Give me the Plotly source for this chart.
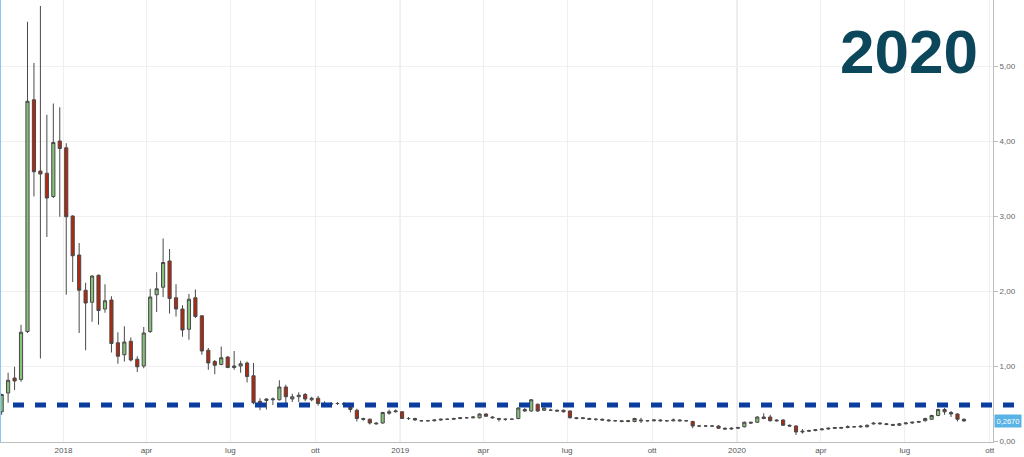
import pandas as pd
import plotly.graph_objects as go

# Weekly candles (first week ~ 2017-10-26)
first_week = "2017-10-26"
n_weeks = 150

opens = [0.39,0.64,0.84,0.82,1.46,4.55,3.60,3.57,3.26,4.00,3.91,3.00,2.48,2.01,1.85,2.21,1.76,1.88,1.31,1.15,
         1.33,1.09,1.00,1.46,1.95,2.05,2.40,1.91,1.76,1.49,1.91,1.67,1.21,1.06,1.02,1.12,0.98,1.00,1.04,0.87,
         0.53,0.54,0.55,0.55,0.72,0.56,0.59,0.62,0.55,0.57,0.50,0.49,0.50,0.50,0.46,0.41,0.30,0.29,0.24,0.24,
         0.37,0.39,0.39,0.30,0.30,0.27,0.27,0.27,0.28,0.29,0.29,0.30,0.31,0.31,0.31,0.36,0.32,0.30,0.29,0.29,
         0.30,0.42,0.40,0.49,0.41,0.41,0.41,0.41,0.40,0.31,0.31,0.30,0.29,0.29,0.28,0.27,0.27,0.26,0.26,0.28,
         0.27,0.27,0.28,0.27,0.27,0.28,0.27,0.26,0.20,0.20,0.20,0.20,0.17,0.16,0.17,0.19,0.25,0.25,0.32,0.32,
         0.28,0.28,0.21,0.20,0.12,0.13,0.14,0.15,0.16,0.18,0.17,0.18,0.19,0.20,0.19,0.24,0.24,0.23,0.22,0.21,
         0.23,0.24,0.25,0.27,0.29,0.34,0.42,0.38,0.36,0.29]
highs = [0.63,0.91,0.99,1.55,5.59,5.04,5.80,4.35,4.50,4.45,3.97,3.01,2.64,2.11,2.21,2.22,2.09,1.93,1.45,1.53,
         1.38,1.13,1.52,2.03,2.25,2.70,2.56,2.09,1.81,1.96,2.02,1.67,1.24,1.08,1.26,1.13,1.20,1.07,1.06,1.04,
         0.57,0.57,0.58,0.81,0.75,0.63,0.65,0.64,0.59,0.60,0.53,0.52,0.52,0.52,0.49,0.43,0.31,0.30,0.25,0.39,
         0.42,0.42,0.40,0.32,0.31,0.28,0.28,0.29,0.30,0.30,0.31,0.32,0.32,0.33,0.37,0.37,0.33,0.31,0.30,0.30,
         0.45,0.44,0.56,0.50,0.45,0.43,0.42,0.42,0.41,0.32,0.32,0.31,0.30,0.30,0.29,0.28,0.28,0.28,0.31,0.31,
         0.28,0.29,0.29,0.28,0.30,0.29,0.28,0.27,0.21,0.21,0.21,0.21,0.18,0.18,0.19,0.26,0.26,0.33,0.37,0.35,
         0.29,0.29,0.22,0.21,0.16,0.15,0.16,0.17,0.18,0.18,0.19,0.21,0.20,0.21,0.22,0.25,0.25,0.24,0.23,0.24,
         0.25,0.26,0.27,0.31,0.35,0.43,0.44,0.40,0.37,0.30]
lows = [0.35,0.51,0.68,0.79,1.44,3.26,1.10,2.72,3.24,2.99,1.95,2.12,1.44,1.21,1.59,1.55,1.71,1.18,1.03,1.06,
        1.06,0.92,0.97,1.44,1.72,1.92,1.70,1.66,1.39,1.35,1.64,1.15,0.95,0.89,1.01,0.97,0.95,0.91,0.78,0.49,
        0.41,0.42,0.48,0.54,0.50,0.52,0.52,0.53,0.53,0.47,0.45,0.47,0.48,0.47,0.38,0.26,0.27,0.22,0.22,0.23,
        0.35,0.38,0.30,0.28,0.27,0.26,0.26,0.26,0.27,0.28,0.28,0.29,0.30,0.30,0.30,0.32,0.30,0.26,0.27,0.28,
        0.29,0.39,0.39,0.39,0.40,0.40,0.39,0.38,0.30,0.29,0.29,0.28,0.27,0.27,0.26,0.26,0.25,0.25,0.25,0.24,
        0.26,0.26,0.26,0.26,0.26,0.26,0.26,0.17,0.19,0.19,0.19,0.16,0.15,0.15,0.16,0.18,0.23,0.24,0.29,0.26,
        0.26,0.20,0.19,0.08,0.10,0.12,0.13,0.14,0.15,0.16,0.16,0.17,0.18,0.18,0.18,0.22,0.22,0.21,0.20,0.20,
        0.22,0.23,0.24,0.26,0.28,0.33,0.35,0.32,0.26,0.26]
closes = [0.62,0.81,0.80,1.45,4.53,3.59,3.56,3.24,3.98,3.90,2.99,2.47,2.01,1.84,2.20,1.74,1.87,1.30,1.13,1.32,
          1.08,0.99,1.44,1.92,2.03,2.38,1.90,1.76,1.48,1.89,1.66,1.20,1.04,1.01,1.11,0.98,1.00,1.03,0.86,0.51,
          0.49,0.56,0.56,0.72,0.59,0.59,0.61,0.56,0.57,0.50,0.49,0.50,0.50,0.49,0.42,0.30,0.29,0.24,0.23,0.38,
          0.39,0.40,0.30,0.30,0.28,0.27,0.27,0.28,0.29,0.29,0.30,0.31,0.31,0.32,0.36,0.33,0.31,0.29,0.29,0.29,
          0.44,0.40,0.55,0.40,0.44,0.41,0.40,0.39,0.31,0.30,0.30,0.29,0.29,0.28,0.27,0.27,0.26,0.27,0.30,0.27,
          0.27,0.28,0.27,0.27,0.28,0.27,0.27,0.20,0.20,0.20,0.20,0.17,0.16,0.17,0.18,0.25,0.24,0.32,0.30,0.27,
          0.27,0.21,0.20,0.12,0.13,0.14,0.15,0.16,0.17,0.17,0.18,0.19,0.19,0.19,0.21,0.23,0.23,0.22,0.21,0.23,
          0.24,0.25,0.26,0.30,0.34,0.42,0.39,0.36,0.29,0.267]

ref_level = 0.48
last_price = 0.267

tick_dates = ["2018-01-01","2018-04-01","2018-07-01","2018-10-01",
              "2019-01-01","2019-04-01","2019-07-01","2019-10-01",
              "2020-01-01","2020-04-01","2020-07-01","2020-10-01"]
tick_texts = ["2018","apr","lug","ott","2019","apr","lug","ott","2020","apr","lug","ott"]
year_lines = ["2018-01-01","2019-01-01","2020-01-01"]
y_ticks = [0,1,2,3,4,5]
title_text = "2020"

dates = pd.date_range(start=first_week, periods=n_weeks, freq="7D")

fig = go.Figure()
fig.add_trace(go.Candlestick(
    x=dates, open=opens, high=highs, low=lows, close=closes,
    increasing=dict(fillcolor="#86c17a", line=dict(color="#4a4a4a", width=1)),
    decreasing=dict(fillcolor="#b3270f", line=dict(color="#4a4a4a", width=1)),
    whiskerwidth=0, showlegend=False, hoverinfo="skip",
))

shapes = []
for d in year_lines:
    shapes.append(dict(type="line", xref="x", yref="paper", x0=d, x1=d, y0=0, y1=1,
                       line=dict(color="#d3d3d3", width=1), layer="below"))
shapes.append(dict(type="line", xref="paper", yref="y", x0=13/993, x1=1.028,
                   y0=ref_level, y1=ref_level,
                   line=dict(color="#0a3d9e", width=5, dash="11px,11px")))
shapes.append(dict(type="line", xref="paper", yref="paper", x0=0, x1=0, y0=0, y1=1.04,
                   line=dict(color="#8ec5ee", width=2)))

fig.update_layout(
    width=1024, height=457,
    margin=dict(l=0, r=31, t=0, b=15),
    paper_bgcolor="white", plot_bgcolor="white",
    separators=",.",
    shapes=shapes,
    xaxis=dict(
        type="date", range=["2017-10-24 05:00", "2020-10-04 12:00"],
        rangeslider=dict(visible=False),
        tickvals=tick_dates, ticktext=tick_texts,
        tickfont=dict(family="Liberation Sans, Arial", size=8, color="#555"),
        showgrid=True, gridcolor="#efefef", gridwidth=1,
        showline=True, linecolor="#bdbdbd", linewidth=1,
        ticks="", zeroline=False, fixedrange=True,
    ),
    yaxis=dict(
        side="right", range=[-0.0133, 5.88],
        tickvals=y_ticks, tickformat=".2f",
        tickfont=dict(family="Liberation Sans, Arial", size=8, color="#666"),
        showgrid=True, gridcolor="#f0f0f0", gridwidth=1,
        showline=True, linecolor="#bdbdbd", linewidth=1,
        ticks="outside", ticklen=4, tickcolor="#bdbdbd",
        zeroline=False, fixedrange=True,
    ),
    annotations=[
        dict(xref="paper", yref="y", x=1, y=last_price, xanchor="left", yanchor="middle",
             xshift=1, text=f"{last_price:.4f}".replace(".", ","), showarrow=False,
             bgcolor="#58b3e6", font=dict(family="Liberation Sans, Arial", size=7.5, color="white"),
             borderpad=1.5),
        dict(xref="paper", yref="paper", x=909/993, y=1 - 51/442, xanchor="center", yanchor="middle",
             text=title_text, showarrow=False,
             font=dict(family="Liberation Sans, Arial", size=62,
                       color="#0c465b", weight="bold")),
    ],
)

fig.write_html("out.html", config={"displayModeBar": False},
               post_script="document.body.style.margin='0';document.body.style.padding='0';")
